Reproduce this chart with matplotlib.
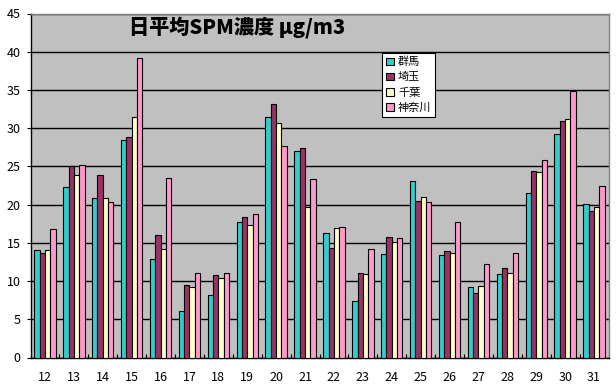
import numpy as np
import matplotlib
matplotlib.use('Agg')
import matplotlib.pyplot as plt
from matplotlib.ticker import FixedLocator, MultipleLocator

plt.rcParams['font.family'] = ['Noto Sans CJK JP', 'DejaVu Sans']

days = [str(d) for d in range(12, 32)]
gunma    = [14.1, 22.3, 20.9, 28.5, 12.9, 6.1, 8.2, 17.7, 31.5, 27.0,
            16.3, 7.4, 13.5, 23.1, 13.4, 9.2, 10.9, 21.5, 29.3, 20.1]
saitama  = [13.7, 25.1, 23.9, 28.9, 16.0, 9.5, 10.8, 18.4, 33.1, 27.4,
            14.3, 11.1, 15.8, 20.5, 13.9, 8.4, 11.7, 24.4, 31.0, 19.1]
chiba    = [14.1, 23.9, 20.9, 31.4, 14.2, 9.2, 10.4, 17.3, 30.7, 19.7,
            17.0, 10.9, 15.1, 21.0, 13.7, 9.4, 11.1, 24.3, 31.2, 19.7]
kanagawa = [16.8, 25.2, 20.4, 39.2, 23.5, 11.1, 11.1, 18.8, 27.7, 23.4,
            17.1, 14.2, 15.6, 20.4, 17.7, 12.2, 13.7, 25.9, 34.8, 22.5]

series = [('群馬', gunma, '#33CCCC'),
          ('埼玉', saitama, '#993366'),
          ('千葉', chiba, '#FFFFCC'),
          ('神奈川', kanagawa, '#FF99CC')]

fig = plt.figure(figsize=(6.16, 3.92), dpi=100)
ax = fig.add_axes([30.5/616, 1-357.5/392, 578/616, 344/392])
ax.set_facecolor('#C0C0C0')

x = np.arange(len(days))
w = 0.185
for i, (name, vals, col) in enumerate(series):
    ax.bar(x + (i - 1.5)*w, vals, width=w, color=col, edgecolor='black',
           linewidth=0.8, label=name, zorder=3)

ax.set_xlim(-0.5, len(days) - 0.5)
ax.set_ylim(0, 45)
ax.yaxis.set_major_locator(MultipleLocator(5))
ax.set_xticks(x)
ax.set_xticklabels(days, fontsize=9)
ax.xaxis.set_minor_locator(FixedLocator(np.arange(-0.5, len(days), 1)))
ax.tick_params(axis='x', which='major', length=0, pad=10)
ax.tick_params(axis='x', which='minor', direction='in', length=3, width=0.8)
ax.tick_params(axis='y', direction='out', length=3, width=0.8, labelsize=9, pad=4)
ax.grid(axis='y', color='black', linewidth=1.0, zorder=1)
ax.set_axisbelow(True)

for s in ['top', 'right']:
    ax.spines[s].set_color('#808080')
    ax.spines[s].set_linewidth(1.0)
for s in ['left', 'bottom']:
    ax.spines[s].set_color('black')
    ax.spines[s].set_linewidth(1.0)

fig.text(237/616, 1-27/392, '日平均SPM濃度 μg/m3', fontsize=14.5, fontweight='heavy',
         ha='center', va='center')

leg = ax.legend(loc='upper left', bbox_to_anchor=(382/616, 1-53/392),
                bbox_transform=fig.transFigure, borderaxespad=0, fontsize=8,
                handlelength=0.7, handleheight=0.7, handletextpad=0.4,
                labelspacing=0.45, borderpad=0.35, fancybox=False,
                framealpha=1, edgecolor='black')
leg.get_frame().set_linewidth(0.8)

plt.savefig('out.png', dpi=100)
